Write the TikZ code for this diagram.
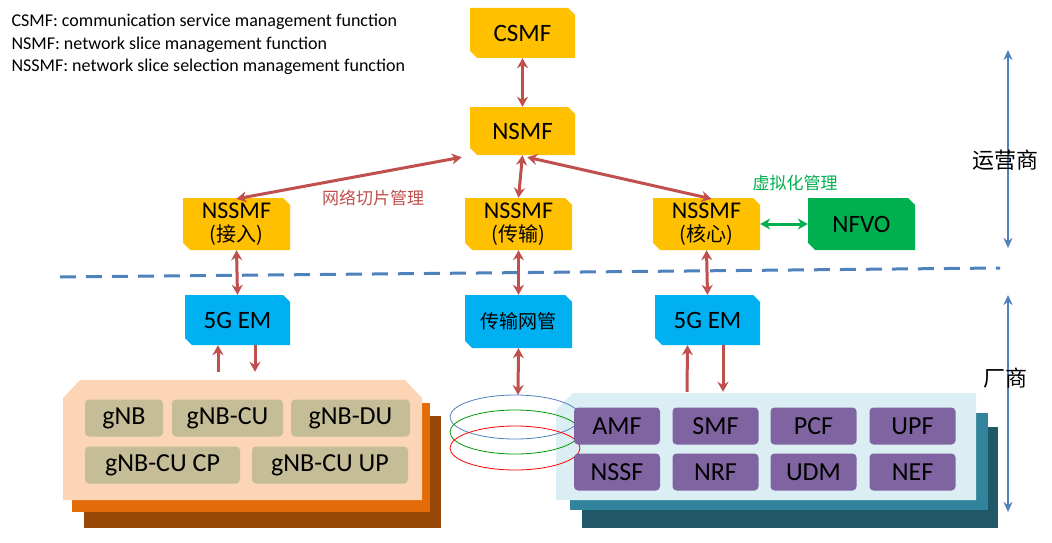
\documentclass[tikz,border=0pt]{standalone}
\usepackage{fontspec}
\setmainfont{Carlito}
\newfontfamily\cjk{Noto Sans CJK SC}
\usetikzlibrary{arrows.meta,calc}
\definecolor{ora}{HTML}{FFC000}
\definecolor{cya}{HTML}{00B0F0}
\definecolor{grn}{HTML}{00B050}
\definecolor{rar}{HTML}{C0504D}
\definecolor{blu}{HTML}{4F81BD}
\definecolor{pea}{HTML}{FBD5B5}
\definecolor{or2}{HTML}{E36C09}
\definecolor{brn}{HTML}{974806}
\definecolor{lbl}{HTML}{DAEEF3}
\definecolor{tea}{HTML}{31849B}
\definecolor{dtl}{HTML}{215868}
\definecolor{pur}{HTML}{8064A2}
\definecolor{khk}{HTML}{C4BD97}
\newcommand\snipnode[7]{%
 \pgfmathsetmacro\sw{#4-#2}\pgfmathsetmacro\sh{#5-#3}%
 \fill[#6] (#2,#3)--(#4-7,#3)--(#4,#3+7)--(#4,#5)--(#2+7,#5)--(#2,#5-7)--cycle;
 \node[inner sep=0,minimum width=\sw pt,minimum height=\sh pt,align=center,font=\fontsize{25}{23}\selectfont] (#1) at ({(#2+#4)/2},{(#3+#5)/2}) {#7};}
\tikzset{
 ra/.style={rar,line width=3pt,-{Stealth[length=10pt,width=11pt]}},
 rab/.style={ra,{Stealth[length=10pt,width=11pt]}-{Stealth[length=10pt,width=11pt]}},
 nf/.style={fill=pur,rounded corners=4pt,minimum width=86pt,minimum height=37pt,inner sep=0,font=\fontsize{26}{27}\selectfont},
 gb/.style={fill=khk,rounded corners=4pt,minimum height=37pt,inner sep=0,font=\fontsize{26}{27}\selectfont},
 ring/.style={line width=0.8pt},
 legf/.style={anchor=west,font=\fontsize{18}{19}\selectfont}
}
\begin{document}
\begin{tikzpicture}[x=1pt,y=-1pt]
\useasboundingbox[fill=white] (0,0) rectangle (1052,543);
% legend
\node[legf] (leg1) at (8,22) {CSMF: communication service management function};
\node[legf] (leg2) at (8,45) {NSMF: network slice management function};
\node[legf] (leg3) at (8,67) {NSSMF: network slice selection management function};
% top nodes
\snipnode{csmf}{470}{8}{575}{58}{ora}{CSMF}
\snipnode{nsmf}{470}{107}{575}{155}{ora}{NSMF}
\snipnode{nsa}{183}{198}{290}{250}{ora}{{\fontsize{24}{24}\selectfont NSSMF}\\{\fontsize{20}{24}\selectfont\cjk(接入)}}
\snipnode{nst}{465}{198}{572}{250}{ora}{{\fontsize{24}{24}\selectfont NSSMF}\\{\fontsize{20}{24}\selectfont\cjk(传输)}}
\snipnode{nsc}{653}{198}{760}{250}{ora}{{\fontsize{24}{24}\selectfont NSSMF}\\{\fontsize{20}{24}\selectfont\cjk(核心)}}
\snipnode{nfvo}{808}{198}{915}{250}{grn}{NFVO}
\snipnode{lem}{185}{295}{290}{345}{cya}{5G EM}
\snipnode{tnm}{465}{295}{572}{348}{cya}{\fontsize{19}{20}\selectfont\cjk 传输网管}
\snipnode{rem}{655}{295}{760}{345}{cya}{5G EM}
% divider
\coordinate (d1) at (60,277); \coordinate (d2) at (1000,268);
\draw[blu,line width=3pt,dash pattern=on 16pt off 10pt] (d1) -- (d2);
% side arrows
\coordinate (v1) at (1008,50); \coordinate (v2) at (1008,248);
\coordinate (v3) at (1008,295); \coordinate (v4) at (1008,512);
\draw[blu,line width=2pt,{Stealth[length=10pt,width=9pt]}-{Stealth[length=10pt,width=9pt]}] (v1) -- (v2);
\draw[blu,line width=2pt,{Stealth[length=10pt,width=9pt]}-{Stealth[length=10pt,width=9pt]}] (v3) -- (v4);
\node[font=\fontsize{22}{23}\selectfont\cjk] (yys) at (1005,160) {运营商};
\node[font=\fontsize{22}{23}\selectfont\cjk] (cs) at (1005,378) {厂商};
\node[font=\fontsize{17}{18}\selectfont\cjk,text=rar] (wl) at (373,198) {网络切片管理};
\node[font=\fontsize{17}{18}\selectfont\cjk,text=grn] (xn) at (795,183) {虚拟化管理};
% left stack
\fill[brn] (84,416) rectangle (441,528);
\fill[or2] (72,403) rectangle (430,512);
\fill[pea] (63,398) -- (80,380) -- (405,380) -- (422,398) -- (422,500) -- (63,500) -- cycle;
\node[inner sep=0,minimum width=359pt,minimum height=120pt] (lstack) at (242.5,440) {};
\node[gb,minimum width=78pt] (g1) at (124,418) {gNB};
\node[gb,minimum width=111pt] (g2) at (227.5,418) {gNB-CU};
\node[gb,minimum width=119pt] (g3) at (350.5,418) {gNB-DU};
\node[gb,minimum width=155pt] (g4) at (162.5,465) {gNB-CU CP};
\node[gb,minimum width=156pt] (g5) at (330,465) {gNB-CU UP};
% right stack
\fill[dtl] (582,427) rectangle (998,528);
\fill[tea] (570,413) rectangle (988,510);
\fill[lbl] (556,410) -- (573,393) -- (976,393) -- (976,500) -- (556,500) -- cycle;
\node[inner sep=0,minimum width=420pt,minimum height=107pt] (rstack) at (766,446.5) {};
% rings
\draw[blu,ring] (515,417) ellipse (65 and 22);
\draw[green!60!black,ring] (515,432) ellipse (65 and 22);
\draw[red,ring] (515,448) ellipse (65 and 22);
\coordinate (ringtop) at (518,395);
\node[nf] (amf) at (617,426) {AMF};
\node[nf] (smf) at (715.5,426) {SMF};
\node[nf] (pcf) at (813.5,426) {PCF};
\node[nf] (upf) at (912.5,426) {UPF};
\node[nf] (nssf) at (617,472) {NSSF};
\node[nf] (nrf) at (715.5,472) {NRF};
\node[nf] (udm) at (813.5,472) {UDM};
\node[nf] (nef) at (912.5,472) {NEF};
% arrows
\draw[rab] (csmf.south) -- (nsmf.north);
\draw[rab] (nst.north) -- (nsmf.south);
\draw[rab] ($(nsmf.south west)+(-8,2)$) -- ($(nsa.north)+(0,1)$);
\draw[rab] ($(nsmf.south east)+(-48,2)$) -- ($(nsc.north)+(5,1)$);
\draw[rab] (nsa.south) -- (lem.north);
\draw[rab] (nst.south) -- (tnm.north);
\draw[rab] (nsc.south) -- (rem.north);
\draw[rab] (tnm.south) -- (ringtop);
\draw[grn,line width=3pt,{Stealth[length=10pt,width=11pt]}-{Stealth[length=10pt,width=11pt]}] (nsc.east) -- (nfvo.west);
\draw[ra] ($(lstack.north)+(-24.5,-8)$) -- ($(lem.south)+(-19.5,0)$);
\draw[ra] ($(lem.south)+(17.5,0)$) -- ($(lstack.north)+(12.5,-8)$);
\draw[ra] ($(rstack.north)+(-79,-1)$) -- ($(rem.south)+(-20,0)$);
\draw[ra] ($(rem.south)+(15.5,0)$) -- ($(rstack.north)+(-43,-1)$);
\end{tikzpicture}
\end{document}
